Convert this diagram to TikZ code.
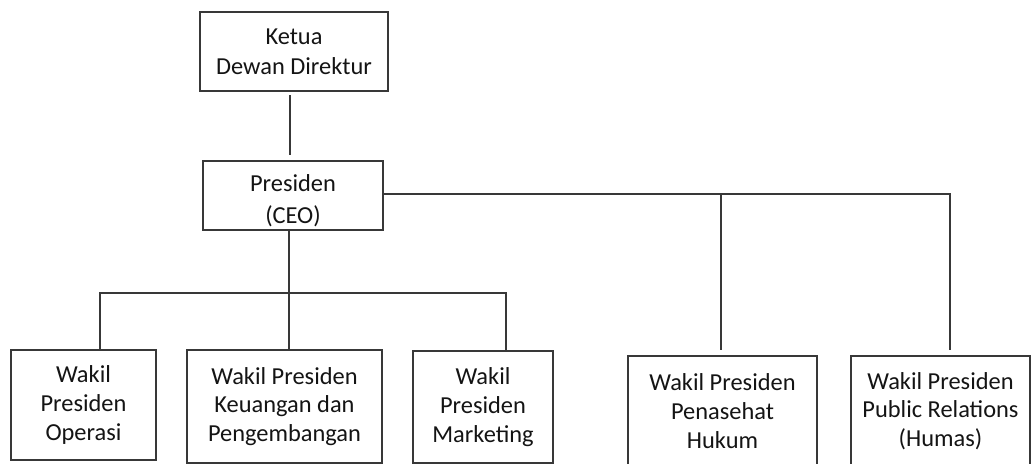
\documentclass[tikz,border=0pt]{standalone}
\usepackage{fontspec}
\setmainfont{Carlito}
\definecolor{linec}{HTML}{383838}
\definecolor{textc}{HTML}{141414}
\begin{document}
\begin{tikzpicture}[x=0.75pt,y=-0.75pt,
  conn/.style={draw=linec, line width=1.1pt},
  box/.style 2 args={draw=linec, line width=1.1pt, fill=white, inner sep=0pt, outer sep=0pt,
    align=center, text=textc, font=\fontsize{18.3}{21.5}\selectfont,
    minimum width=#1*0.75pt, minimum height=#2*0.75pt},
]
\clip (0,0) rectangle (1032,464);
\fill[white] (0,0) rectangle (1032,464);

% boxes
\node[box={188}{79}, font=\fontsize{18.3}{22.5}\selectfont] (ketua) at (294,51.5) {Ketua\\Dewan Direktur};
\node[box={180}{69}, font=\fontsize{18.3}{24}\selectfont] (pres) at (293,195.5) {\rule{0pt}{20pt}Presiden\\(CEO)};
\node[box={145}{110}] (op) at (83.5,405) {Wakil\\Presiden\\Operasi};
\node[box={195}{113}] (keu) at (284.5,406.5) {Wakil Presiden\\Keuangan dan\\Pengembangan};
\node[box={140}{112}] (mkt) at (483,407) {Wakil\\Presiden\\Marketing};
\node[box={189}{110}] (huk) at (722.5,411) {Wakil Presiden\\Penasehat\\Hukum};
\node[box={179}{110}] (hum) at (940.5,411) {Wakil Presiden\\Public Relations\\(Humas)};

% bus coordinates
\coordinate (top) at (290,0);
\coordinate (b1) at (100,293);
\coordinate (b2) at (289,293);
\coordinate (b3) at (506,293);
\coordinate (r1) at (721,194);
\coordinate (r2) at (950,194);

% connectors
\draw[conn, shorten <=3pt, shorten >=4.5pt] (ketua.south -| top) -- (pres.north -| top);
\draw[conn] (pres.south -| b2) -- (b2);
\draw[conn] (op.north -| b1) -- (b1) -- (b3) -- (mkt.north -| b3);
\draw[conn] (b2) -- (keu.north -| b2);
\draw[conn, shorten >=4.5pt] (pres.east |- r1) -- (r2) -- (hum.north -| r2);
\draw[conn, shorten >=4.5pt] (r1) -- (huk.north -| r1);
\end{tikzpicture}
\end{document}
